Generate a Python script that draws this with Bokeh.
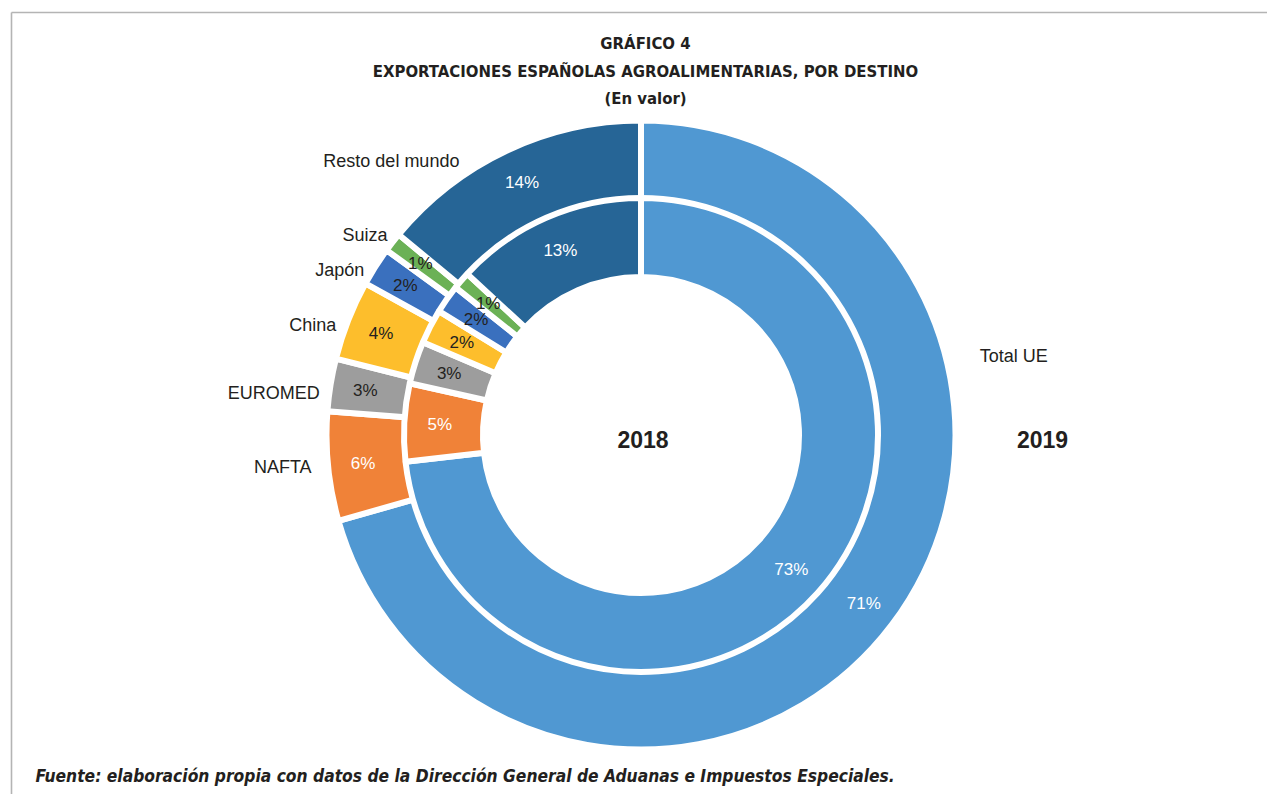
import math
from bokeh.plotting import figure
from bokeh.models import Range1d, ColumnDataSource
from bokeh.core.properties import value
from bokeh.embed import file_html
from bokeh.resources import INLINE

# ---------------- data ----------------
categories = ["Total UE", "NAFTA", "EUROMED", "China", "Japón", "Suiza", "Resto del mundo"]
share_2018 = [73.2, 5.3, 2.9, 2.35, 1.95, 1.2, 13.1]
share_2019 = [70.6, 5.6, 2.7, 4.1, 2.0, 1.0, 14.0]
years = ["2018", "2019"]

colors = ["#5098D2", "#F08238", "#9D9D9D", "#FDBE2C", "#3A70BE", "#6BB156", "#266596"]
label_colors = ["white", "white", "#231f20", "#231f20", "#231f20", "#231f20", "white"]

# category label placement (polar: degrees clockwise from 12 o'clock, radius in px)
cat_label_angle = [76.8, 264.4, 277.5, 289.9, 300.75, 308.3, 326.5]
cat_label_radius = [348, 331, 324, 324, 322, 323, 329]
cat_label_align = ["left", "right", "right", "right", "right", "right", "right"]

# ---------------- layout ----------------
W, H = 1267, 794
PAGE_H = 794
OFF = 0  # page offset of the figure
def Y(sy):
    return PAGE_H - sy

cx, cy = 640.5, Y(434.5)
outer_ring = (239, 311.5)
inner_ring = (161, 234)
GAP = 6
FONT = "Liberation Sans"
NARROW = "DejaVu Sans Condensed"

p = figure(width=W, height=H, x_range=Range1d(OFF, OFF + W), y_range=Range1d(Y(OFF + H), Y(OFF)),
           output_backend="svg", toolbar_location=None, x_axis_type=None, y_axis_type=None,
           min_border=0)
p.grid.visible = False
p.outline_line_color = None
p.background_fill_color = "white"
p.border_fill_color = "white"

# frame lines
p.segment(x0=[11, 11], y0=[Y(12), Y(12)], x1=[1267, 11], y1=[Y(12), Y(800)],
          line_color="#b4b4b4", line_width=1.6)


def ring(values, r0, r1, lab_r):
    total = sum(values)
    cum = 0.0
    a0s, a1s, lx, ly, txt = [], [], [], [], []
    for v in values:
        a0 = math.pi / 2 - 2 * math.pi * cum / total
        mid = cum + v / 2
        cum += v
        a1 = math.pi / 2 - 2 * math.pi * cum / total
        a0s.append(a0)
        a1s.append(a1)
        am = math.pi / 2 - 2 * math.pi * mid / total
        lx.append(cx + lab_r * math.cos(am))
        ly.append(cy + lab_r * math.sin(am))
        txt.append(f"{round(v)}%")
    src = ColumnDataSource(dict(a0=a0s, a1=a1s, color=colors, lx=lx, ly=ly, txt=txt, tc=label_colors))
    p.annular_wedge(x=cx, y=cy, inner_radius=r0 - GAP / 2, outer_radius=r1 + GAP / 2,
                    start_angle="a0", end_angle="a1", direction="clock",
                    fill_color="color", line_color="white", line_width=GAP, source=src)
    p.text(x="lx", y="ly", text="txt", text_color="tc", text_align="center",
           text_baseline="middle", text_font=value(FONT), text_font_size="17px", source=src)


ring(share_2019, *outer_ring, lab_r=(outer_ring[0] + outer_ring[1]) / 2 + 4)
ring(share_2018, *inner_ring, lab_r=(inner_ring[0] + inner_ring[1]) / 2 + 4)

# category labels
clx, cly = [], []
for ang, r in zip(cat_label_angle, cat_label_radius):
    t = math.radians(ang)
    clx.append(cx + r * math.sin(t))
    cly.append(cy + r * math.cos(t))
p.text(x=clx, y=cly, text=categories, text_align=cat_label_align, text_baseline="middle",
       text_color="#231f20", text_font=value(FONT), text_font_size="18px")

# year labels
p.text(x=[cx + 2, 1042], y=[Y(439), Y(439)], text=years, text_align="center",
       text_baseline="middle", text_color="#231f20", text_font=value(FONT),
       text_font_style="bold", text_font_size="23px")

# titles
titles = ["GRÁFICO 4", "EXPORTACIONES ESPAÑOLAS AGROALIMENTARIAS, POR DESTINO", "(En valor)"]
p.text(x=[645, 645, 645], y=[Y(43), Y(71), Y(98)], text=titles, text_align="center",
       text_baseline="middle", text_color="#231f20", text_font=value(NARROW),
       text_font_style="bold", text_font_size="16.6px")

p.text(x=[35], y=[Y(775)],
       text=["Fuente: elaboración propia con datos de la Dirección General de Aduanas e Impuestos Especiales."],
       text_align="left", text_baseline="middle", text_color="#231f20", text_font=value(NARROW),
       text_font_style="bold italic", text_font_size="17.3px")

open("out.html", "w").write(file_html(p, INLINE))
